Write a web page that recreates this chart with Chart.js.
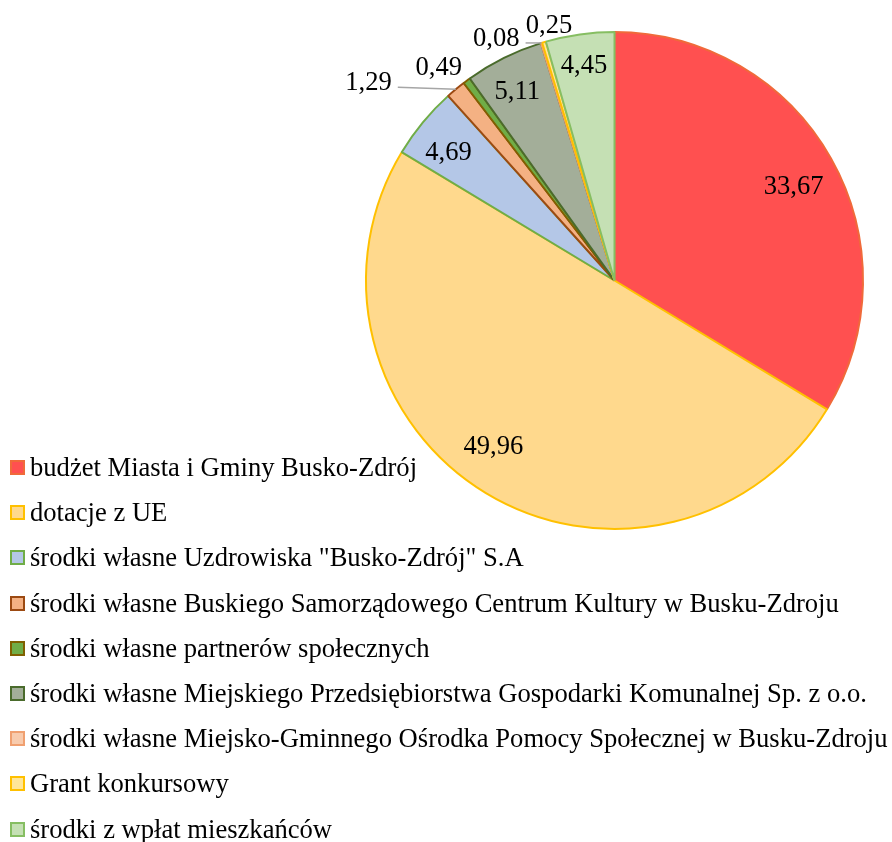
<!DOCTYPE html>
<html>
<head>
<meta charset="utf-8">
<script src="https://cdn.jsdelivr.net/npm/chart.js@4/dist/chart.umd.min.js"></script>
<style>
  html, body { margin: 0; padding: 0; background: #fff; }
  #wrap { position: relative; width: 892px; height: 842px; overflow: hidden; }
  #c { position: absolute; left: 0; top: 0; }
  #legend { position: absolute; left: 10px; top: 445px; margin: 0; padding: 0; list-style: none;
            font-family: "Liberation Serif", "Times New Roman", serif; font-size: 26.6px; color: #000; }
  #legend li { height: 45.2px; line-height: 45.2px; white-space: nowrap; display: flex; align-items: center; }
  #legend .sw { display: inline-block; width: 11px; height: 11px; border-width: 2px; border-style: solid; margin-right: 5px; }
</style>
</head>
<body>
<div id="wrap">
  <canvas id="c" width="892" height="842"></canvas>
  <ul id="legend"></ul>
</div>
<script>
const categories = [
  'budżet Miasta i Gminy Busko-Zdrój',
  'dotacje z UE',
  'środki własne Uzdrowiska "Busko-Zdrój" S.A',
  'środki własne Buskiego Samorządowego Centrum Kultury w Busku-Zdroju',
  'środki własne partnerów społecznych',
  'środki własne Miejskiego Przedsiębiorstwa Gospodarki Komunalnej Sp. z o.o.',
  'środki własne Miejsko-Gminnego Ośrodka Pomocy Społecznej w Busku-Zdroju',
  'Grant konkursowy',
  'środki z wpłat mieszkańców'
];
const values = [33.67, 49.96, 4.69, 1.29, 0.49, 5.11, 0.08, 0.25, 4.45];

const fillColors = ['#FF5050', '#FFD98D', '#B4C7E7', '#F4B183', '#70AD47', '#A3AE99', '#F8CBAD', '#FFE699', '#C5E0B4'];
const borderColors = ['#F06A3A', '#FFC000', '#70AD47', '#9C4A12', '#806000', '#4A6B2C', '#F0A070', '#FFC000', '#86BE62'];

// label placement (inside: radius fraction + nudge; outside: offset from arc edge)
const labelPlacement = [
  {mode: 'in', r: 0.79, dx: 8, dy: 3},
  {mode: 'in', r: 0.81, dx: -17, dy: -6},
  {mode: 'in', r: 0.835, dx: -6, dy: 5},
  {mode: 'leader', lx: -58, ly: -2},
  {mode: 'out', dx: -28, dy: -13},
  {mode: 'in', r: 0.87, dx: -1, dy: 5},
  {mode: 'leader', lx: -16, ly: 0},
  {mode: 'out', dx: 5, dy: -16},
  {mode: 'in', r: 0.88, dx: 0, dy: 2}
];

const fmt = v => v.toFixed(2).replace('.', ',');

const labelPlugin = {
  id: 'sliceLabels',
  afterDatasetsDraw(chart) {
    const ctx = chart.ctx;
    const meta = chart.getDatasetMeta(0);
    ctx.save();
    ctx.font = '26.6px "Liberation Serif", "Times New Roman", serif';
    ctx.fillStyle = '#000';
    ctx.textBaseline = 'middle';
    meta.data.forEach((arc, i) => {
      const p = arc.getProps(['x', 'y', 'startAngle', 'endAngle', 'outerRadius'], true);
      const mid = (p.startAngle + p.endAngle) / 2;
      const cx = Math.cos(mid), cy = Math.sin(mid);
      const pl = labelPlacement[i];
      const txt = fmt(values[i]);
      if (pl.mode === 'in') {
        ctx.textAlign = 'center';
        ctx.fillText(txt, p.x + cx * p.outerRadius * pl.r + pl.dx, p.y + cy * p.outerRadius * pl.r + pl.dy);
      } else if (pl.mode === 'out') {
        ctx.textAlign = 'center';
        ctx.fillText(txt, p.x + cx * p.outerRadius + pl.dx, p.y + cy * p.outerRadius + pl.dy);
      } else {
        const ex = p.x + cx * p.outerRadius, ey = p.y + cy * p.outerRadius;
        const lx = ex + pl.lx, ly = ey + pl.ly;
        ctx.strokeStyle = '#A6A6A6';
        ctx.lineWidth = 1.5;
        ctx.beginPath();
        ctx.moveTo(ex, ey);
        ctx.lineTo(lx, ly);
        ctx.stroke();
        ctx.textAlign = 'right';
        ctx.fillText(txt, lx - 6, ly - 4);
      }
    });
    ctx.restore();
  }
};

new Chart(document.getElementById('c'), {
  type: 'pie',
  data: {
    labels: categories,
    datasets: [{
      data: values,
      backgroundColor: fillColors,
      borderColor: borderColors,
      borderWidth: 2
    }]
  },
  options: {
    responsive: false,
    animation: false,
    layout: { padding: { left: 365, top: 31, right: 28, bottom: 312 } },
    plugins: { legend: { display: false }, tooltip: { enabled: false } }
  },
  plugins: [labelPlugin]
});

const ul = document.getElementById('legend');
categories.forEach((c, i) => {
  const li = document.createElement('li');
  const sw = document.createElement('span');
  sw.className = 'sw';
  sw.style.background = fillColors[i];
  sw.style.borderColor = borderColors[i];
  li.appendChild(sw);
  li.appendChild(document.createTextNode(c));
  ul.appendChild(li);
});
</script>
</body>
</html>
